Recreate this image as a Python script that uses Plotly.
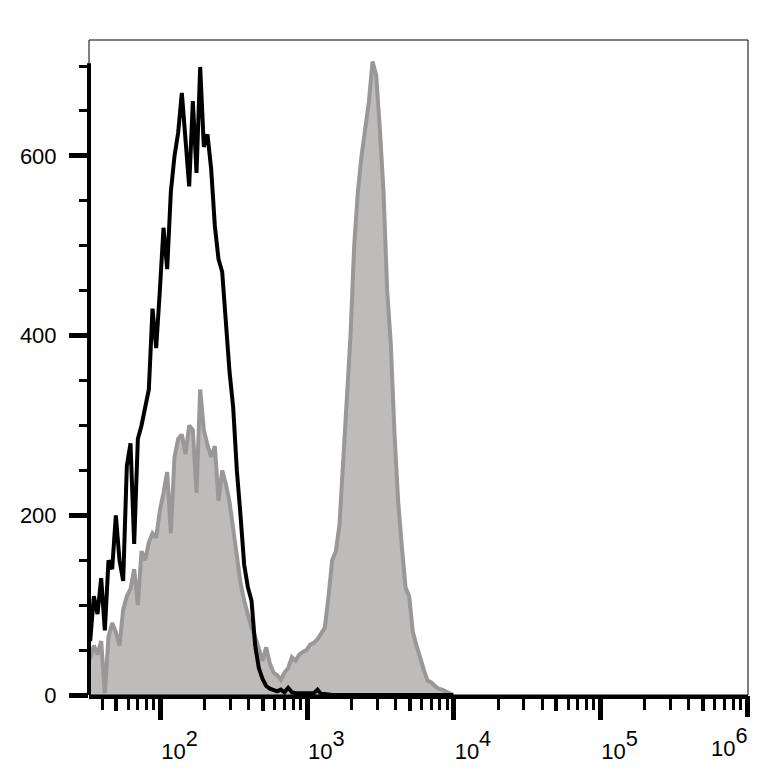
import plotly.graph_objects as go

# Histogram channels: log10 start and bin step of the display grid
LOG_START = 1.52
LOG_STEP = 0.025

# Black open histogram (control)
control_counts = [
    60, 110, 90, 130, 72, 150, 140, 200, 150, 127,
    255, 280, 168, 285, 300, 320, 340, 430, 386, 450,
    520, 474, 560, 600, 626, 670, 620, 566, 661, 581,
    699, 610, 624, 585, 522, 485, 471, 408, 360, 320,
    250, 200, 145, 120, 105, 55, 30, 18, 10, 7,
    6, 4, 6, 3, 8, 3, 2, 2, 2, 2,
    2, 2, 6, 1, 1, 0, 0, 0, 0, 0,
    0, 0, 0, 0, 0, 0, 0, 0, 0, 0,
    0, 0, 0, 0, 0, 0, 0, 0, 0, 0,
    0, 0, 0, 0, 0, 0, 0, 0, 0, 0,
]

# Grey filled histogram (stained)
stained_counts = [
    40, 55, 45, 60, 2, 65, 80, 70, 55, 95,
    110, 118, 140, 100, 160, 150, 170, 180, 175, 205,
    225, 248, 180, 265, 285, 290, 268, 300, 295, 225,
    340, 295, 278, 265, 277, 216, 250, 235, 215, 185,
    155, 125, 105, 90, 75, 65, 50, 38, 53, 35,
    25, 22, 17, 25, 30, 42, 38, 45, 48, 50,
    56, 58, 62, 68, 75, 110, 150, 160, 190, 260,
    330, 400, 500, 560, 600, 630, 660, 705, 690, 630,
    560, 450, 390, 290, 215, 165, 120, 110, 70, 55,
    40, 28, 16, 14, 10, 7, 6, 4, 2, 0,
]

channels = [10 ** (LOG_START + LOG_STEP * i) for i in range(len(stained_counts))]

LBL = '<span style="font-size:22px">10</span><sup>%d</sup>'
x_major = [1e2, 1e3, 1e4, 1e5]
x_major_text = [LBL % e for e in (2, 3, 4, 5)]
x_last = [1e6]
x_last_text = [LBL % 6]
x_mid = [50, 500, 5000, 50000, 500000]
x_minor = [m * 10 ** d for d in range(1, 6) for m in (2, 3, 4, 6, 7, 8, 9)]
x_minor = [v for v in x_minor if v >= 35]

y_major = [0, 200, 400, 600]
y_minor = [50, 100, 150, 250, 300, 350, 450, 500, 550, 650, 700]

X_RANGE = [1.512, 6.005]
Y_RANGE = [0, 729]

fig = go.Figure()
fig.add_trace(go.Scatter(
    x=channels, y=stained_counts, mode='lines', fill='tozeroy',
    fillcolor='rgb(190,187,187)', line=dict(color='rgb(153,151,151)', width=4),
    showlegend=False, hoverinfo='skip'))
fig.add_trace(go.Scatter(
    x=channels, y=control_counts, mode='lines',
    line=dict(color='black', width=4), showlegend=False, hoverinfo='skip'))
# invisible carrier so the overlaying axis is drawn
fig.add_trace(go.Scatter(
    x=channels, y=control_counts, mode='markers', xaxis='x2',
    marker=dict(opacity=0), showlegend=False, hoverinfo='skip'))

fig.update_layout(
    width=774, height=768,
    margin=dict(l=81, r=34, t=32, b=78),
    paper_bgcolor='white', plot_bgcolor='white',
    font=dict(family='Liberation Sans, Arial, sans-serif', size=22, color='black'),
    xaxis=dict(
        type='log', range=X_RANGE, tickmode='array', tickvals=x_major, ticktext=x_major_text,
        tickfont=dict(size=31),
        ticks='outside', ticklen=21, tickwidth=5, tickcolor='black',
        showline=True, linewidth=4, linecolor='black', showgrid=False, zeroline=False,
        ticklabelshift=19, ticklabelstandoff=2,
        minor=dict(tickmode='array', tickvals=x_minor, ticks='outside', ticklen=11,
                   tickwidth=3, tickcolor='black', showgrid=False),
    ),
    xaxis2=dict(
        type='log', range=X_RANGE, overlaying='x', side='bottom', anchor='y',
        tickmode='array', tickvals=x_last, ticktext=x_last_text,
        tickfont=dict(size=31),
        ticks='outside', ticklen=21, tickwidth=5, tickcolor='black',
        showline=False, showgrid=False, zeroline=False,
        ticklabelshift=-18, ticklabelstandoff=2,
        minor=dict(tickmode='array', tickvals=x_mid, ticks='outside', ticklen=15,
                   tickwidth=4, tickcolor='black', showgrid=False),
    ),
    yaxis=dict(
        range=Y_RANGE, tickmode='array', tickvals=y_major,
        ticks='outside', ticklen=19, tickwidth=5, tickcolor='black',
        showline=False, showgrid=False, zeroline=False, ticklabelstandoff=8,
        minor=dict(tickmode='array', tickvals=y_minor, ticks='outside', ticklen=9,
                   tickwidth=3, tickcolor='black', showgrid=False),
    ),
    shapes=[
        dict(type='rect', xref='paper', yref='paper', x0=0, x1=1, y0=0, y1=1,
             line=dict(color='black', width=1), layer='above'),
        dict(type='line', xref='paper', yref='y', x0=0, x1=0, y0=0, y1=703,
             line=dict(color='black', width=4), layer='above'),
    ],
)

fig.write_html('out.html')
